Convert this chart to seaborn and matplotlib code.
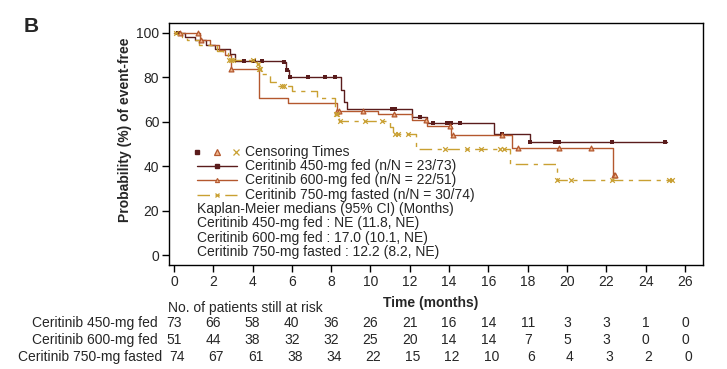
import numpy as np
import pandas as pd
import matplotlib
matplotlib.use("Agg")
import matplotlib.pyplot as plt
import matplotlib.transforms as mtransforms
import seaborn as sns

# ---- data ----
t450 = [0, 0.55, 1.05, 1.65, 2.1, 2.85, 3.1, 5.5, 5.7, 5.85, 8.5, 8.65, 8.8, 12.1, 12.9, 16.3, 18.1, 25.1]
s450 = [100, 98, 96.8, 94.6, 93, 90.4, 87.5, 86.8, 83.3, 80, 74.3, 69, 65.6, 62, 59.3, 54.5, 50.8, 50.8]

t600 = [0, 1.35, 1.85, 2.3, 2.6, 2.9, 4.35, 5.8, 8.3, 10.4, 12.1, 12.9, 14.1, 17.2, 22.35, 22.5]
s600 = [100, 96.8, 94.6, 92.5, 90, 83.6, 70.6, 68.3, 65, 63.4, 60.8, 58.3, 54, 48, 36, 36]

t750 = [0, 0.4, 0.65, 1.3, 2.2, 2.5, 2.75, 4.25, 4.35, 4.5, 4.9, 5.3, 6.0, 7.3, 8.2, 8.4, 11.0, 11.15, 12.3, 17.1, 19.5, 25.4]
s750 = [100, 98.3, 96.8, 94.6, 91.9, 90.8, 88, 86, 84, 81.5, 78, 76.3, 74, 70.6, 63.5, 60.5, 57.8, 54.5, 47.6, 41, 33.8, 33.8]

c450 = [0.2, 3.55, 4.1, 4.5, 5.6, 5.75, 5.9, 6.8, 7.7, 8.2, 11.1, 11.25, 12.5, 13.2, 13.9, 14.1, 14.55, 16.7, 18.1, 19.4, 19.6, 22.3, 25.0]
c600 = [0.3, 1.25, 1.4, 2.9, 8.3, 8.4, 9.6, 11.2, 12.85, 14.05, 14.2, 16.7, 17.5, 19.6, 21.2, 22.4, 22.45]
c750 = [0.1, 2.8, 2.9, 3.0, 4.0, 4.3, 4.35, 4.4, 5.5, 5.6, 8.25, 8.3, 8.45, 9.7, 10.6, 11.25, 11.4, 11.9,
        13.8, 14.9, 15.6, 16.6, 16.8, 19.5, 20.2, 22.3, 25.2, 25.35]

arms = ["Ceritinib 450-mg fed", "Ceritinib 600-mg fed", "Ceritinib 750-mg fasted"]
events = ["23/73", "22/51", "30/74"]
medians = ["NE (11.8, NE)", "17.0 (10.1, NE)", "12.2 (8.2, NE)"]

risk_times = list(range(0, 27, 2))
risk450 = [73, 66, 58, 40, 36, 26, 21, 16, 14, 11, 3, 3, 1, 0]
risk600 = [51, 44, 38, 32, 32, 25, 20, 14, 14, 7, 5, 3, 0, 0]
risk750 = [74, 67, 61, 38, 34, 22, 15, 12, 10, 6, 4, 3, 2, 0]

colors = ["#5a1c1c", "#b4582e", "#c9a032"]
tri_fill = "#eeb48c"
markers = ["s", "^", "x"]
styles = ["-", "-", (0, (9, 4, 3, 4))]


def step_at(times, surv, pts):
    idx = np.searchsorted(times, pts, side="right") - 1
    return np.asarray(surv)[idx]


sns.set_style("ticks")
plt.rcParams["font.family"] = ["Liberation Sans", "DejaVu Sans"]

fig = plt.figure(figsize=(7.27, 3.69), dpi=100)
ax = fig.add_axes([169 / 727, 1 - 265 / 369, 534 / 727, 242 / 369])

curves = [(t450, s450, c450), (t600, s600, c600), (t750, s750, c750)]
for i, (t, s, c) in enumerate(curves):
    sns.lineplot(x=t, y=s, drawstyle="steps-post", color=colors[i], linewidth=1.0,
                 linestyle=styles[i], estimator=None, ax=ax)
    cy = step_at(t, s, c)
    if markers[i] == "s":
        sns.scatterplot(x=c, y=cy, marker="s", color=colors[i], s=7, linewidth=0, ax=ax, zorder=3)
    elif markers[i] == "^":
        sns.scatterplot(x=c, y=cy, marker="^", facecolor=tri_fill, edgecolor=colors[i], s=12,
                        linewidth=0.9, ax=ax, zorder=3)
    else:
        sns.scatterplot(x=c, y=cy, marker="x", color=colors[i], s=11, linewidth=0.9, ax=ax, zorder=3)

ax.set_xlim(-0.25, 26.92)
ax.set_ylim(-4.5, 104.5)
ax.set_xticks(range(0, 27, 2))
ax.set_yticks(range(0, 101, 20))
ax.tick_params(axis="both", labelsize=10, length=5, width=1, color="black", pad=2)
for sp in ax.spines.values():
    sp.set_visible(True)
    sp.set_color("black")
    sp.set_linewidth(1)
ax.set_xlabel("Time (months)", fontsize=10, fontweight="bold", labelpad=2)
ax.xaxis.set_label_coords(0.49, -0.13)
ax.set_ylabel("Probability (%) of event-free", fontsize=10, fontweight="bold")
ax.yaxis.set_label_coords(-0.069, 0.56)

# legend block, drawn in axes fraction
lx0, lx1, tx = 0.052, 0.127, 0.142
y0, dy = 0.468, 0.0593
for j, xm in enumerate([0.052, 0.090, 0.125]):
    if markers[j] == "^":
        ax.plot([xm], [y0], marker="^", ms=4, mfc=tri_fill, mec=colors[j], mew=0.9, transform=ax.transAxes, ls="none")
    elif markers[j] == "s":
        ax.plot([xm], [y0], marker="s", ms=3.5, color=colors[j], transform=ax.transAxes, ls="none")
    else:
        ax.plot([xm], [y0], marker="x", ms=4, mew=0.9, color=colors[j], transform=ax.transAxes, ls="none")
ax.text(tx, y0, "Censoring Times", transform=ax.transAxes, va="center", fontsize=10)
for i in range(3):
    yy = y0 - (i + 1) * dy
    ax.plot([lx0, lx1], [yy, yy], color=colors[i], lw=1.0, ls=styles[i], transform=ax.transAxes)
    if markers[i] == "^":
        ax.plot([(lx0 + lx1) / 2], [yy], marker="^", ms=3, mfc=tri_fill, mec=colors[i], mew=0.8, transform=ax.transAxes)
    elif markers[i] == "s":
        ax.plot([(lx0 + lx1) / 2], [yy], marker="s", ms=2.2, color=colors[i], transform=ax.transAxes)
    else:
        ax.plot([(lx0 + lx1) / 2], [yy], marker="x", ms=3.5, mew=0.9, color=colors[i], transform=ax.transAxes)
    ax.text(tx, yy, f"{arms[i]} (n/N = {events[i]})", transform=ax.transAxes, va="center", fontsize=10)
ax.text(lx0, y0 - 4 * dy, "Kaplan-Meier medians (95% CI) (Months)", transform=ax.transAxes,
        va="center", fontsize=10)
for i in range(3):
    ax.text(lx0, y0 - (5 + i) * dy, f"{arms[i]} : {medians[i]}", transform=ax.transAxes,
            va="center", fontsize=10)

# risk table
blend = mtransforms.blended_transform_factory(ax.transData, fig.transFigure)
fig.text(168 / 727, 1 - 308 / 369, "No. of patients still at risk", va="center", ha="left", fontsize=10)
rows = [risk450, risk600, risk750]
row_y = [1 - 323.3 / 369, 1 - 340 / 369, 1 - 356.7 / 369]
row_dx = [0, 0, 3]
label_x = [158, 158, 162]
for i, vals in enumerate(rows):
    fig.text(label_x[i] / 727, row_y[i], arms[i], ha="right", va="center", fontsize=10)
    off = blend + mtransforms.ScaledTranslation(row_dx[i] / 100, 0, fig.dpi_scale_trans)
    for t, v in zip(risk_times, vals):
        ax.text(t, row_y[i], str(v), transform=off, ha="center", va="center", fontsize=10, clip_on=False)

fig.text(24 / 727, 1 - 26 / 369, "B", fontsize=15, fontweight="bold", ha="left", va="center")

fig.savefig("out.png", dpi=100)
